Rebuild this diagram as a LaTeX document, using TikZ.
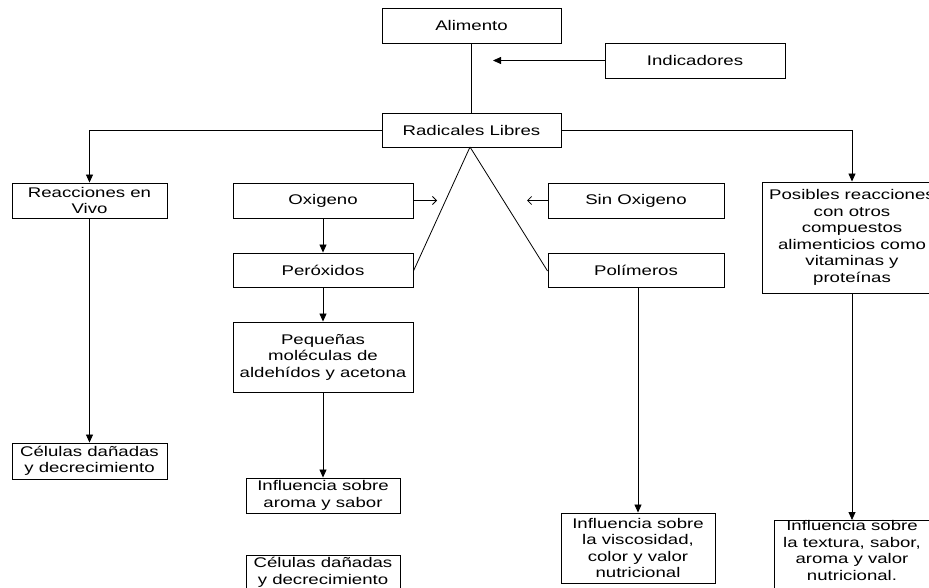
\documentclass[tikz,border=0pt]{standalone}
\usepackage{fontspec}
\setmainfont{Liberation Sans}[FakeStretch=1.33]
\usetikzlibrary{arrows.meta}
\begin{document}
\begin{tikzpicture}[x=1pt,y=-1pt,
  box/.style={draw=black, line width=0.9pt, rectangle, inner sep=0pt, align=center,
    font=\fontsize{14}{16.5}\selectfont},
  link/.style={draw=black, line width=0.8pt},
  arr/.style={link, -{Triangle[length=8pt,width=7pt]}},
  openarr/.style={link, -{Straight Barb[length=4pt,width=8pt]}}]
\useasboundingbox (0,0) rectangle (929,588);
% nodes
\node[box, minimum width=179pt, minimum height=35pt] (alim) at (471.5,25.5) {Alimento};
\node[box, minimum width=180pt, minimum height=35pt] (ind) at (695,60.5) {Indicadores};
\node[box, minimum width=179pt, minimum height=34pt] (rad) at (471.5,130) {Radicales Libres};
\node[box, minimum width=155pt, minimum height=35pt] (reac) at (89.5,200.5) {Reacciones en\\Vivo};
\node[box, minimum width=180pt, minimum height=35pt] (oxi) at (323,200.5) {Oxigeno};
\node[box, minimum width=176pt, minimum height=35pt] (sin) at (636,200.5) {Sin Oxigeno};
\node[box, minimum width=180pt, minimum height=111pt] (pos) at (852,237.5) {Posibles reacciones\\con otros\\compuestos\\alimenticios como\\vitaminas y\\proteínas};
\node[box, minimum width=180pt, minimum height=34pt] (per) at (323,270) {Peróxidos};
\node[box, minimum width=176pt, minimum height=34pt] (pol) at (636,270) {Polímeros};
\node[box, minimum width=180pt, minimum height=70pt] (peq) at (323,357) {Pequeñas\\moléculas de\\aldehídos y acetona};
\node[box, minimum width=155pt, minimum height=36pt] (cel1) at (89.5,461) {Células dañadas\\y decrecimiento};
\node[box, minimum width=154pt, minimum height=35pt] (aro) at (323,495.5) {Influencia sobre\\aroma y sabor};
\node[box, minimum width=154pt, minimum height=35pt] (cel2) at (323,572.5) {Células dañadas\\y decrecimiento};
\node[box, minimum width=154pt, minimum height=70pt] (visc) at (638,548) {Influencia sobre\\la viscosidad,\\color y valor\\nutricional};
\node[box, minimum width=156pt, minimum height=80pt, anchor=north] (tex) at (852,520) {Influencia sobre\\la textura, sabor,\\aroma y valor\\nutricional.\\[4pt]};
% free ends
\coordinate (indend) at (493,60.5);
\coordinate (oxiend) at (437,200.5);
\coordinate (sinend) at (527,200.5);
\coordinate (apex) at (470,147);
% connectors
\draw[link] (alim.south) -- (rad.north);
\draw[arr] (ind.west) -- (indend);
\draw[arr] (rad.west) -| (reac.north);
\draw[arr] (rad.east) -| (pos.north);
\draw[openarr] (oxi.east) -- (oxiend);
\draw[openarr] (sin.west) -- (sinend);
\draw[link] (apex) -- ([yshift=-1pt]per.east);
\draw[link] (apex) -- ([yshift=-1pt]pol.west);
\draw[arr] (oxi.south) -- (per.north);
\draw[arr] (per.south) -- (peq.north);
\draw[arr] (peq.south) -- (aro.north);
\draw[arr] (reac.south) -- (cel1.north);
\draw[arr] (visc.north |- pol.south) -- (visc.north);
\draw[arr] (pos.south) -- (tex.north);
\end{tikzpicture}
\end{document}
